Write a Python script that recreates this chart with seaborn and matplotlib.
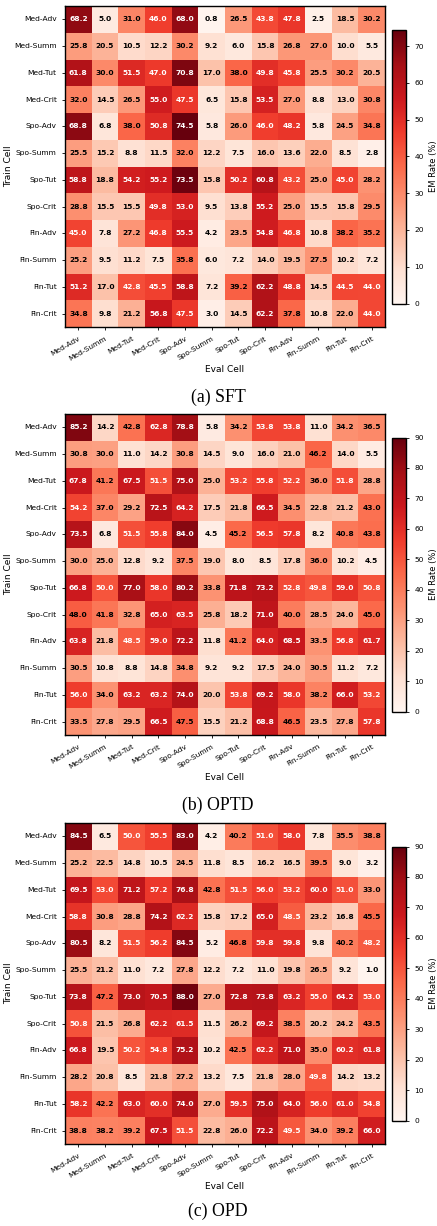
import numpy as np
import pandas as pd
import seaborn as sns
import matplotlib.pyplot as plt

cells = ["Med-Adv", "Med-Summ", "Med-Tut", "Med-Crit",
         "Spo-Adv", "Spo-Summ", "Spo-Tut", "Spo-Crit",
         "Fin-Adv", "Fin-Summ", "Fin-Tut", "Fin-Crit"]

# EM rate (%), rows = train cell, cols = eval cell
sft = [
    [68.2, 5.0, 31.0, 46.0, 68.0, 0.8, 26.5, 43.8, 47.8, 2.5, 18.5, 30.2],
    [25.8, 20.5, 10.5, 12.2, 30.2, 9.2, 6.0, 15.8, 26.8, 27.0, 10.0, 5.5],
    [61.8, 30.0, 51.5, 47.0, 70.8, 17.0, 38.0, 49.8, 45.8, 25.5, 30.2, 20.5],
    [32.0, 14.5, 26.5, 55.0, 47.5, 6.5, 15.8, 53.5, 27.0, 8.8, 13.0, 30.8],
    [68.8, 6.8, 38.0, 50.8, 74.5, 5.8, 26.0, 46.0, 48.2, 5.8, 24.5, 34.8],
    [25.5, 15.2, 8.8, 11.5, 32.0, 12.2, 7.5, 16.0, 13.6, 22.0, 8.5, 2.8],
    [58.8, 18.8, 54.2, 55.2, 73.5, 15.8, 50.2, 60.8, 43.2, 25.0, 45.0, 28.2],
    [28.8, 15.5, 15.5, 49.8, 53.0, 9.5, 13.8, 55.2, 25.0, 15.5, 15.8, 29.5],
    [45.0, 7.8, 27.2, 46.8, 55.5, 4.2, 23.5, 54.8, 46.8, 10.8, 38.2, 35.2],
    [25.2, 9.5, 11.2, 7.5, 35.8, 6.0, 7.2, 14.0, 19.5, 27.5, 10.2, 7.2],
    [51.2, 17.0, 42.8, 45.5, 58.8, 7.2, 39.2, 62.2, 48.8, 14.5, 44.5, 44.0],
    [34.8, 9.8, 21.2, 56.8, 47.5, 3.0, 14.5, 62.2, 37.8, 10.8, 22.0, 44.0],
]

optd = [
    [85.2, 14.2, 42.8, 62.8, 78.8, 5.8, 34.2, 53.8, 53.8, 11.0, 34.2, 36.5],
    [30.8, 30.0, 11.0, 14.2, 30.8, 14.5, 9.0, 16.0, 21.0, 46.2, 14.0, 5.5],
    [67.8, 41.2, 67.5, 51.5, 75.0, 25.0, 53.2, 55.8, 52.2, 36.0, 51.8, 28.8],
    [54.2, 37.0, 29.2, 72.5, 64.2, 17.5, 21.8, 66.5, 34.5, 22.8, 21.2, 43.0],
    [73.5, 6.8, 51.5, 55.8, 84.0, 4.5, 45.2, 56.5, 57.8, 8.2, 40.8, 43.8],
    [30.0, 25.0, 12.8, 9.2, 37.5, 19.0, 8.0, 8.5, 17.8, 36.0, 10.2, 4.5],
    [66.8, 50.0, 77.0, 58.0, 80.2, 33.8, 71.8, 73.2, 52.8, 49.8, 59.0, 50.8],
    [48.0, 41.8, 32.8, 65.0, 63.5, 25.8, 18.2, 71.0, 40.0, 28.5, 24.0, 45.0],
    [63.8, 21.8, 48.5, 59.0, 72.2, 11.8, 41.2, 64.0, 68.5, 33.5, 56.8, 61.7],
    [30.5, 10.8, 8.8, 14.8, 34.8, 9.2, 9.2, 17.5, 24.0, 30.5, 11.2, 7.2],
    [56.0, 34.0, 63.2, 63.2, 74.0, 20.0, 53.8, 69.2, 58.0, 38.2, 66.0, 53.2],
    [33.5, 27.8, 29.5, 66.5, 47.5, 15.5, 21.2, 68.8, 46.5, 23.5, 27.8, 57.8],
]

opd = [
    [84.5, 6.5, 50.0, 55.5, 83.0, 4.2, 40.2, 51.0, 58.0, 7.8, 35.5, 38.8],
    [25.2, 22.5, 14.8, 10.5, 24.5, 11.8, 8.5, 16.2, 16.5, 39.5, 9.0, 3.2],
    [69.5, 53.0, 71.2, 57.2, 76.8, 42.8, 51.5, 56.0, 53.2, 60.0, 51.0, 33.0],
    [58.8, 30.8, 28.8, 74.2, 62.2, 15.8, 17.2, 65.0, 48.5, 23.2, 16.8, 45.5],
    [80.5, 8.2, 51.5, 56.2, 84.5, 5.2, 46.8, 59.8, 59.8, 9.8, 40.2, 48.2],
    [25.5, 21.2, 11.0, 7.2, 27.8, 12.2, 7.2, 11.0, 19.8, 26.5, 9.2, 1.0],
    [73.8, 47.2, 73.0, 70.5, 88.0, 27.0, 72.8, 73.8, 63.2, 55.0, 64.2, 53.0],
    [50.8, 21.5, 26.8, 62.2, 61.5, 11.5, 26.2, 69.2, 38.5, 20.2, 24.2, 43.5],
    [66.8, 19.5, 50.2, 54.8, 75.2, 10.2, 42.5, 62.2, 71.0, 35.0, 60.2, 61.8],
    [28.2, 20.8, 8.5, 21.8, 27.2, 13.2, 7.5, 21.8, 28.0, 49.8, 14.2, 13.2],
    [58.2, 42.2, 63.0, 60.0, 74.0, 27.0, 59.5, 75.0, 64.0, 56.0, 61.0, 54.8],
    [38.8, 38.2, 39.2, 67.5, 51.5, 22.8, 26.0, 72.2, 49.5, 34.0, 39.2, 66.0],
]

panels = [("(a) SFT", sft, 74.5), ("(b) OPTD", optd, 90), ("(c) OPD", opd, 90)]

W, H = 437, 1226
fig = plt.figure(figsize=(W / 100, H / 100), dpi=100)

# pixel tops of the three heatmaps and caption centres
tops = [6, 414, 823]
caps = [397, 805, 1211]
hm_h = 321

for (title, data, vmax), top, cap in zip(panels, tops, caps):
    ax = fig.add_axes([65 / W, 1 - (top + hm_h) / H, 320 / W, hm_h / H])
    cb_h = 274
    cb_top = top + (hm_h - cb_h) / 2
    cax = fig.add_axes([392 / W, 1 - (cb_top + cb_h) / H, 14 / W, cb_h / H])

    df = pd.DataFrame(data, index=cells, columns=cells)
    sns.heatmap(df, ax=ax, cbar_ax=cax, cmap="Reds", vmin=0, vmax=vmax,
                annot=True, fmt=".1f",
                annot_kws={"size": 5.4, "weight": "bold"},
                cbar_kws={"label": "EM Rate (%)"})

    # white text on the darker half of the scale
    thr = 0.535 * vmax
    for t in ax.texts:
        t.set_color("white" if float(t.get_text()) > thr else "black")

    for s in ax.spines.values():
        s.set_visible(True)
        s.set_linewidth(1.0)
        s.set_color("black")
    ax.tick_params(axis="both", labelsize=5.4, length=2.5, width=0.6)
    ax.set_xticklabels(cells, rotation=30, ha="right", rotation_mode="anchor")
    ax.set_yticklabels(cells, rotation=0)
    ax.set_xlabel("Eval Cell", fontsize=6.5, labelpad=2)
    ax.set_ylabel("Train Cell", fontsize=6.5, labelpad=1)

    cax.tick_params(labelsize=5.4, length=2.5, width=0.6)
    cax.yaxis.label.set_size(6)
    cbar = ax.collections[0].colorbar
    cbar.outline.set_visible(True)
    cbar.outline.set_linewidth(1.0)
    cbar.outline.set_edgecolor("black")

    fig.text(218 / W, 1 - cap / H, title, ha="center", va="center",
             fontsize=12.8, family="Liberation Serif")

fig.savefig("out.png", dpi=100)
